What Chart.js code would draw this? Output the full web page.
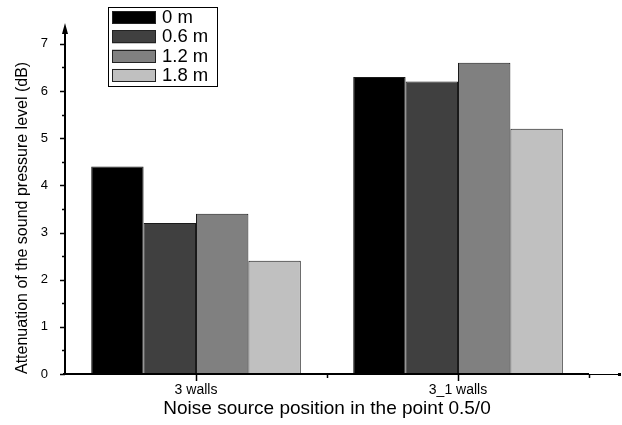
<!DOCTYPE html>
<html>
<head>
<meta charset="utf-8">
<script src="https://cdn.jsdelivr.net/npm/chart.js@4/dist/chart.umd.min.js"></script>
<style>
  html, body { margin: 0; padding: 0; background: #fff; }
  #wrap { width: 622px; height: 425px; }
</style>
</head>
<body>
<div id="wrap"><canvas id="chart"></canvas></div>
<script>
const categories = ['3 walls', '3_1 walls'];
const seriesLabels = ['0 m', '0.6 m', '1.2 m', '1.8 m'];
const values0 = [4.4, 6.3];
const values06 = [3.2, 6.2];
const values12 = [3.4, 6.6];
const values18 = [2.4, 5.2];
const barColors = ['#000000', '#404040', '#808080', '#c0c0c0'];
const yTickValues = [0, 1, 2, 3, 4, 5, 6, 7];

const FONT = 'Arial, "Liberation Sans", sans-serif';

// axes, ticks, arrows and the boxed legend, drawn by hand like the original plot
const axesPlugin = {
    id: 'originAxes',
    afterDraw(chart) {
        const ctx = chart.ctx;
        const x = chart.scales.x;
        const y = chart.scales.y;
        const a = chart.chartArea;
        const y0 = y.getPixelForValue(0);
        ctx.save();
        ctx.strokeStyle = '#000';
        ctx.fillStyle = '#000';

        // y axis with arrow
        ctx.lineWidth = 2;
        ctx.beginPath();
        ctx.moveTo(a.left, y0 + 1);
        ctx.lineTo(a.left, a.top + 6);
        ctx.stroke();
        ctx.beginPath();
        ctx.moveTo(a.left, a.top - 2);
        ctx.lineTo(a.left - 3, a.top + 9);
        ctx.lineTo(a.left + 3, a.top + 9);
        ctx.closePath();
        ctx.fill();

        // y ticks, major and minor
        ctx.lineWidth = 1.5;
        for (let v = 0; v <= 7; v += 0.5) {
            const py = Math.round(y.getPixelForValue(v)) + 0.5;
            const len = Number.isInteger(v) ? 5 : 3;
            ctx.beginPath();
            ctx.moveTo(a.left, py);
            ctx.lineTo(a.left - len, py);
            ctx.stroke();
        }

        // x axis
        ctx.lineWidth = 2;
        ctx.beginPath();
        ctx.moveTo(a.left - 2, y0);
        ctx.lineTo(a.right, y0);
        ctx.stroke();
        ctx.lineWidth = 1;
        ctx.beginPath();
        ctx.moveTo(a.right, y0 + 0.5);
        ctx.lineTo(chart.width - 3, y0 + 0.5);
        ctx.stroke();
        ctx.fillRect(chart.width - 4, y0 - 1, 3, 3);

        // x ticks: category centres and boundaries
        ctx.lineWidth = 1.5;
        categories.forEach((c, i) => {
            const px = Math.round(x.getPixelForValue(i)) + 0.5;
            ctx.beginPath();
            ctx.moveTo(px, y0);
            ctx.lineTo(px, y0 + 7);
            ctx.stroke();
            const bx = Math.round(x.getPixelForValue(i + 0.5)) + 0.5;
            ctx.beginPath();
            ctx.moveTo(bx, y0);
            ctx.lineTo(bx, y0 + 4);
            ctx.stroke();
        });

        // legend
        ctx.lineWidth = 1;
        ctx.strokeRect(108.5, 7.5, 109, 79);
        ctx.font = '18.5px ' + FONT;
        ctx.textBaseline = 'middle';
        chart.data.datasets.forEach((ds, i) => {
            const top = 11 + i * 19.3;
            ctx.fillStyle = ds.backgroundColor;
            ctx.fillRect(112, top, 44, 13);
            ctx.strokeStyle = '#222';
            ctx.strokeRect(112.5, Math.round(top) + 0.5, 43, 12);
            ctx.fillStyle = '#000';
            ctx.fillText(ds.label, 162, top + 7);
        });
        ctx.restore();
    }
};

const seriesData = [values0, values06, values12, values18];

new Chart(document.getElementById('chart'), {
    type: 'bar',
    data: {
        labels: categories,
        datasets: seriesLabels.map((label, i) => ({
            label: label,
            data: seriesData[i],
            backgroundColor: barColors[i],
            borderColor: '#1a1a1a',
            borderWidth: 1,
            borderSkipped: false,
            categoryPercentage: 0.8,
            barPercentage: 1.0
        }))
    },
    options: {
        responsive: true,
        maintainAspectRatio: false,
        animation: false,
        layout: { padding: { top: 25, right: 33, left: 0, bottom: 0 } },
        plugins: {
            legend: { display: false },
            tooltip: { enabled: false }
        },
        scales: {
            x: {
                grid: { display: false, drawTicks: false },
                border: { display: false },
                ticks: { color: '#000', font: { family: FONT, size: 14 }, padding: 8 },
                title: {
                    display: true,
                    text: 'Noise source position in the point 0.5/0',
                    color: '#000',
                    font: { family: FONT, size: 19 },
                    padding: { top: 5, bottom: 5 }
                },
                afterFit(scale) { scale.height = 51; }
            },
            y: {
                min: 0,
                max: 7.4,
                afterBuildTicks(scale) {
                    scale.ticks = yTickValues.map(v => ({ value: v }));
                },
                grid: { display: false, drawTicks: false },
                border: { display: false },
                ticks: { color: '#000', font: { family: FONT, size: 13 }, padding: 17 },
                title: {
                    display: true,
                    text: 'Attenuation of the sound pressure level (dB)',
                    color: '#000',
                    align: 'start',
                    font: { family: FONT, size: 16 },
                    padding: { top: 13, bottom: 4 }
                },
                afterFit(scale) { scale.width = 65; }
            }
        }
    },
    plugins: [axesPlugin]
});
</script>
</body>
</html>
